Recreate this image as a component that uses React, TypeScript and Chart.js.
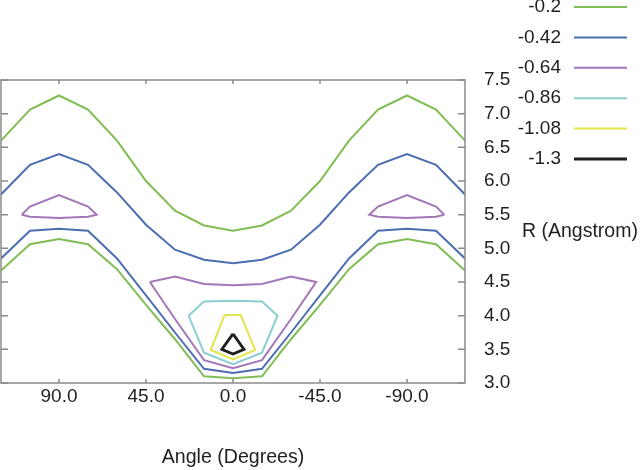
import React, { useEffect, useRef } from "react";
import { Chart, registerables } from "chart.js";

Chart.register(...registerables);

// ---- Data ----
const LEVEL_LABELS = ["-0.2", "-0.42", "-0.64", "-0.86", "-1.08", "-1.3"];
const LEVEL_COLORS = ["#80bd55", "#4d6db3", "#a277b8", "#8ccfd2", "#e4e44c", "#1e1e1e"];
const LEVEL_WIDTHS = [2, 2, 2, 2, 2, 2.8];

const X_TICKS = [90, 45, 0, -45, -90];
const Y_TICKS = [3.0, 3.5, 4.0, 4.5, 5.0, 5.5, 6.0, 6.5, 7.0, 7.5];

type P = [number, number];

// level -0.2
const c020Upper: P[] = [[120, 6.6], [105, 7.06], [90, 7.27], [75, 7.06], [60, 6.6], [45, 6.0], [30, 5.56], [15, 5.34], [0, 5.26], [-15, 5.34], [-30, 5.56], [-45, 6.0], [-60, 6.6], [-75, 7.06], [-90, 7.27], [-105, 7.06], [-120, 6.6]];
const c020Lower: P[] = [[120, 4.67], [105, 5.06], [90, 5.14], [75, 5.06], [60, 4.69], [45, 4.16], [30, 3.65], [15, 3.1], [0, 3.07], [-15, 3.1], [-30, 3.65], [-45, 4.16], [-60, 4.69], [-75, 5.06], [-90, 5.14], [-105, 5.06], [-120, 4.67]];
// level -0.42
const c042Upper: P[] = [[120, 5.8], [105, 6.24], [90, 6.4], [75, 6.24], [60, 5.83], [45, 5.35], [30, 4.98], [15, 4.83], [0, 4.78], [-15, 4.83], [-30, 4.98], [-45, 5.35], [-60, 5.83], [-75, 6.24], [-90, 6.4], [-105, 6.24], [-120, 5.8]];
const c042Lower: P[] = [[120, 4.85], [105, 5.26], [90, 5.29], [75, 5.26], [60, 4.85], [45, 4.3], [30, 3.75], [15, 3.21], [0, 3.15], [-15, 3.21], [-30, 3.75], [-45, 4.3], [-60, 4.85], [-75, 5.26], [-90, 5.29], [-105, 5.26], [-120, 4.85]];
// level -0.64
const c064IslandLeft: P[] = [[109.3, 5.5], [105, 5.62], [90, 5.79], [75, 5.62], [70.5, 5.5], [75, 5.47], [90, 5.45], [105, 5.47], [109.3, 5.5]];
const c064IslandRight: P[] = [[-109.3, 5.5], [-105, 5.62], [-90, 5.79], [-75, 5.62], [-70.5, 5.5], [-75, 5.47], [-90, 5.45], [-105, 5.47], [-109.3, 5.5]];
const c064Center: P[] = [[43, 4.5], [30, 4.58], [15, 4.47], [0, 4.45], [-15, 4.47], [-30, 4.58], [-43, 4.5], [-30, 3.95], [-15, 3.34], [0, 3.22], [15, 3.34], [30, 3.95], [43, 4.5]];
// level -0.86
const c086Center: P[] = [[23, 4.0], [15, 4.21], [0, 4.22], [-15, 4.21], [-23, 4.0], [-15, 3.45], [0, 3.28], [15, 3.45], [23, 4.0]];
// level -1.08
const c108Center: P[] = [[4.3, 4.01], [-4.0, 4.01], [-11.5, 3.49], [0, 3.35], [11.5, 3.49], [4.3, 4.01]];
// level -1.3
const c130Center: P[] = [[0, 3.73], [-5.7, 3.5], [0, 3.43], [5.8, 3.5], [0, 3.73]];

const SEGMENTS: { level: number; pts: P[] }[] = [
  { level: 0, pts: c020Upper },
  { level: 0, pts: c020Lower },
  { level: 1, pts: c042Upper },
  { level: 1, pts: c042Lower },
  { level: 2, pts: c064IslandLeft },
  { level: 2, pts: c064IslandRight },
  { level: 2, pts: c064Center },
  { level: 3, pts: c086Center },
  { level: 4, pts: c108Center },
  { level: 5, pts: c130Center },
];

const FONT = '"Liberation Sans", Arial, Helvetica, sans-serif';
const TEXT = "#1f1f1f";
const FRAME = "#8a8a8a";

const framePlugin = {
  id: "frameAndExtras",
  afterDatasetsDraw(chart: any) {
    const { ctx, chartArea } = chart;
    const { left, right, top, bottom } = chartArea;
    const xs = chart.scales.x;
    const ys = chart.scales.y;
    ctx.save();
    ctx.strokeStyle = FRAME;
    ctx.lineWidth = 1.5;
    ctx.strokeRect(left, top, right - left, bottom - top);
    ctx.beginPath();
    X_TICKS.forEach((v) => {
      const px = xs.getPixelForValue(v);
      ctx.moveTo(px, bottom);
      ctx.lineTo(px, bottom - 4);
      ctx.moveTo(px, top);
      ctx.lineTo(px, top + 4);
    });
    Y_TICKS.forEach((v) => {
      const py = ys.getPixelForValue(v);
      ctx.moveTo(left, py);
      ctx.lineTo(left + 7, py);
      ctx.moveTo(right, py);
      ctx.lineTo(right - 7, py);
    });
    ctx.stroke();
    ctx.restore();
  },
  afterDraw(chart: any) {
    const { ctx } = chart;
    ctx.save();
    ctx.font = `19px ${FONT}`;
    ctx.fillStyle = TEXT;
    ctx.textBaseline = "middle";
    // legend
    LEVEL_LABELS.forEach((lab, i) => {
      const y = 7 + i * 30.4;
      ctx.textAlign = "right";
      ctx.fillStyle = TEXT;
      ctx.fillText(lab, 561, y);
      ctx.strokeStyle = LEVEL_COLORS[i];
      ctx.lineWidth = LEVEL_WIDTHS[i];
      ctx.beginPath();
      ctx.moveTo(574, y);
      ctx.lineTo(627, y);
      ctx.stroke();
    });
    // y axis title (horizontal)
    ctx.font = `19.5px ${FONT}`;
    ctx.textAlign = "left";
    ctx.fillStyle = TEXT;
    ctx.fillText("R (Angstrom)", 522, 232);
    ctx.restore();
  },
};

export default function App() {
  const ref = useRef<HTMLCanvasElement | null>(null);
  useEffect(() => {
    if (!ref.current) return;
    const datasets = SEGMENTS.map((s) => ({
      label: LEVEL_LABELS[s.level],
      data: s.pts.map(([x, y]) => ({ x, y })),
      showLine: true,
      borderColor: LEVEL_COLORS[s.level],
      backgroundColor: LEVEL_COLORS[s.level],
      borderWidth: LEVEL_WIDTHS[s.level],
      pointRadius: 0,
      tension: 0,
      fill: false,
    }));
    const chart = new Chart(ref.current, {
      type: "scatter",
      data: { datasets },
      options: {
        animation: false,
        responsive: false,
        layout: { padding: { left: 1, top: 80, right: 0, bottom: 0 } },
        plugins: { legend: { display: false }, tooltip: { enabled: false } },
        scales: {
          x: {
            type: "linear",
            reverse: true,
            min: -120,
            max: 120,
            grid: { display: false, drawTicks: false },
            border: { display: false },
            afterBuildTicks: (scale: any) => {
              scale.ticks = X_TICKS.map((v) => ({ value: v }));
            },
            afterFit: (scale: any) => {
              scale.height = 87;
            },
            ticks: {
              padding: 2,
              color: TEXT,
              font: { size: 19, family: FONT },
              maxRotation: 0,
              callback: (v: any) => Number(v).toFixed(1),
            },
            title: {
              display: true,
              text: "Angle (Degrees)",
              color: TEXT,
              font: { size: 19.6, family: FONT },
              padding: { top: 0, bottom: 1 },
            },
          },
          y: {
            type: "linear",
            position: "right",
            min: 3,
            max: 7.5,
            grid: { display: false, drawTicks: false },
            border: { display: false },
            afterBuildTicks: (scale: any) => {
              scale.ticks = Y_TICKS.map((v) => ({ value: v }));
            },
            afterFit: (scale: any) => {
              scale.width = 175;
            },
            ticks: {
              padding: 19,
              color: TEXT,
              font: { size: 19, family: FONT },
              callback: (v: any) => Number(v).toFixed(1),
            },
          },
        },
      },
      plugins: [framePlugin],
    } as any);
    return () => chart.destroy();
  }, []);
  return (
    <div style={{ position: "fixed", left: 0, top: 0, width: 640, height: 470, background: "#fff" }}>
      <canvas ref={ref} width={640} height={470} style={{ display: "block" }} />
    </div>
  );
}
